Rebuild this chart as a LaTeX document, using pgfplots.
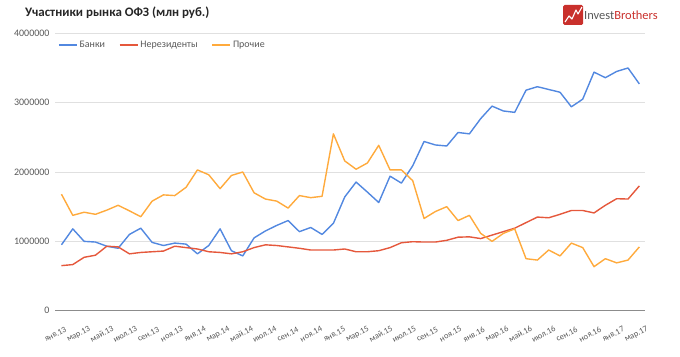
\documentclass[border=0pt]{standalone}
\usepackage{fontspec}
\setmainfont{Carlito}
\usepackage{pgfplots}
\pgfplotsset{compat=1.18}
\usepackage{pgfplotstable}
\definecolor{cB}{HTML}{5288E0}
\definecolor{cN}{HTML}{E5583C}
\definecolor{cP}{HTML}{FFAA3C}
\definecolor{txt}{HTML}{595959}
\definecolor{logored}{HTML}{C9302C}
\pgfplotstableread{
i B N P
0 950000 650000 1680000
1 1180000 665000 1375000
2 1000000 770000 1420000
3 990000 800000 1390000
4 930000 930000 1450000
5 900000 920000 1520000
6 1100000 820000 1440000
7 1190000 840000 1355000
8 985000 850000 1580000
9 940000 860000 1670000
10 975000 930000 1660000
11 960000 910000 1780000
12 820000 890000 2030000
13 940000 850000 1960000
14 1180000 840000 1760000
15 865000 820000 1950000
16 790000 850000 2000000
17 1050000 910000 1700000
18 1150000 950000 1610000
19 1230000 940000 1580000
20 1300000 920000 1480000
21 1140000 900000 1660000
22 1200000 875000 1630000
23 1100000 875000 1650000
24 1260000 875000 2550000
25 1640000 890000 2160000
26 1855000 850000 2040000
27 1710000 850000 2130000
28 1560000 865000 2385000
29 1940000 910000 2030000
30 1840000 980000 2030000
31 2090000 995000 1875000
32 2440000 990000 1330000
33 2390000 990000 1430000
34 2375000 1015000 1500000
35 2570000 1060000 1300000
36 2550000 1065000 1375000
37 2770000 1040000 1115000
38 2950000 1090000 1000000
39 2880000 1140000 1115000
40 2860000 1190000 1180000
41 3180000 1270000 750000
42 3230000 1350000 730000
43 3190000 1340000 875000
44 3150000 1390000 790000
45 2940000 1445000 975000
46 3050000 1445000 910000
47 3440000 1410000 635000
48 3360000 1520000 750000
49 3450000 1615000 690000
50 3500000 1610000 730000
51 3270000 1800000 920000
}\data
\begin{document}
\begin{tikzpicture}[x=1bp,y=1bp]
\useasboundingbox (0,0) rectangle (680,356);
\node[anchor=west, inner sep=0pt, text=black!85] at (25,343) {\fontsize{13}{15}\selectfont\bfseries Участники рынка ОФЗ (млн руб.)};
% logo
\fill[logored, rounded corners=1.5bp] (563,331) rectangle (583,351);
\draw[white, line width=1.1bp, line join=round] (565,334) -- (569,340) -- (572,337) -- (576,346) -- (578,342) -- (582,349);
\node[anchor=west, inner sep=0pt] at (584,340.5) {\fontsize{12.5}{14}\selectfont\textcolor{txt}{Invest}\textcolor{logored}{Brothers}};
\begin{axis}[
  at={(55bp,45.3bp)}, anchor=south west,
  scale only axis, width=590bp, height=277.4bp,
  xmin=-0.57, xmax=51.5, ymin=0, ymax=4000000,
  scaled y ticks=false,
  axis x line*=bottom, axis y line*=left,
  x axis line style={draw=black!45, line width=1.3bp, -},
  y axis line style={draw=none},
  ymajorgrids, grid style={draw=black!12, line width=1bp},
  major tick length=0pt,
  ytick={0,1000000,2000000,3000000,4000000},
  yticklabels={0,1000000,2000000,3000000,4000000},
  yticklabel style={font=\fontsize{10}{12}\selectfont, text=txt, xshift=-2bp},
  xtick={-0.132,1.919,3.970,6.022,8.073,10.124,12.175,14.226,16.278,18.329,20.380,22.431,24.482,26.534,28.585,30.636,32.687,34.738,36.790,38.841,40.892,42.943,44.994,47.046,49.097,51.148},
  xticklabels={янв.13,мар.13,май.13,июл.13,сен.13,ноя.13,янв.14,мар.14,май.14,июл.14,сен.14,ноя.14,янв.15,мар.15,май.15,июл.15,сен.15,ноя.15,янв.16,мар.16,май.16,июл.16,сен.16,ноя.16,янв.17,мар.17},
  xticklabel style={font=\fontsize{8.5}{10}\selectfont, text=txt, rotate=28, anchor=center, inner sep=0pt, xshift=-15bp, yshift=-18.5bp},
  legend columns=-1,
  legend style={at={(rel axis cs:0.0,0.958)}, anchor=west, draw=none, fill=none, font=\fontsize{10}{12}\selectfont, text=txt, inner xsep=3bp,
    /tikz/every even column/.append style={column sep=12bp}},
  legend image code/.code={\draw[#1] (0bp,0bp) -- (18bp,0bp);},
  every axis plot/.append style={line width=1.4bp, line join=round},
]
\addplot[cB] table[x=i, y=B] {\data};
\addplot[cN] table[x=i, y=N] {\data};
\addplot[cP] table[x=i, y=P] {\data};
\legend{Банки, Нерезиденты, Прочие}
\end{axis}
\end{tikzpicture}
\end{document}
